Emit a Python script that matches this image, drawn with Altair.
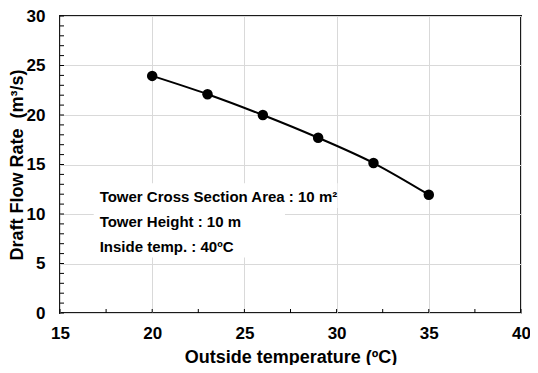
import altair as alt
import pandas as pd

# data
outside_temp = [20, 23, 26, 29, 32, 35]
flow_rate = [23.95, 22.1, 20.0, 17.7, 15.15, 11.95]

x_major = [15, 20, 25, 30, 35, 40]
y_major = [0, 5, 10, 15, 20, 25, 30]
x_minor = [15 + 2.5 * i for i in range(11)]
y_minor = list(range(0, 31))

notes = ["Tower Cross Section Area : 10 m\u00b2", "Tower Height : 10 m", "Inside temp. : 40\u00baC"]
note_x = [17.15, 17.15, 17.15]
note_y = [11.2, 8.65, 6.15]

# white boxes behind the annotation (data units)
box_x = [16.83, 16.83]
box_x2 = [30.05, 27.2]
box_y = [13.1, 10.6]
box_y2 = [10.6, 5.6]

FONT = "Liberation Sans"

df = pd.DataFrame({"t": outside_temp, "q": flow_rate})
notes_df = pd.DataFrame({"label": notes, "x": note_x, "y": note_y})
box_df = pd.DataFrame({"x": box_x, "x2": box_x2, "y": box_y, "y2": box_y2})
xt_df = pd.DataFrame({"v": x_minor})
yt_df = pd.DataFrame({"v": y_minor})

xs = alt.Scale(domain=[15, 40], nice=False, zero=False)
ys = alt.Scale(domain=[0, 30], nice=False)

x_axis = alt.Axis(values=x_major, title="Outside temperature (\u00baC)", grid=True,
                  ticks=False, tickSize=0, domain=False, labelPadding=12, labelFlush=False,
                  titlePadding=7, labelFontSize=17, titleFontSize=18)
y_axis = alt.Axis(values=y_major, title="Draft Flow Rate \u00a0(m\u00b3/s)", grid=True,
                  ticks=False, tickSize=0, domain=False, labelPadding=15, labelFlush=False,
                  titlePadding=0, labelFontSize=17, titleFontSize=18)

base = alt.Chart(df)

line = base.mark_line(color="black", strokeWidth=2, interpolate="monotone").encode(
    x=alt.X("t:Q", scale=xs, axis=x_axis),
    y=alt.Y("q:Q", scale=ys, axis=y_axis),
)
points = base.mark_circle(color="black", opacity=1, size=110).encode(
    x=alt.X("t:Q", scale=xs),
    y=alt.Y("q:Q", scale=ys),
)

boxes = alt.Chart(box_df).mark_rect(color="white").encode(
    x=alt.X("x:Q", scale=xs), x2="x2", y=alt.Y("y:Q", scale=ys), y2="y2"
)
texts = alt.Chart(notes_df).mark_text(
    align="left", baseline="alphabetic", font=FONT, fontSize=15, fontWeight="bold", color="black"
).encode(x=alt.X("x:Q", scale=xs), y=alt.Y("y:Q", scale=ys), text="label:N")

yticks = alt.Chart(yt_df).mark_rule(color="black", strokeWidth=1).encode(
    y=alt.Y("v:Q", scale=ys), x=alt.value(0), x2=alt.value(4)
)
xticks = alt.Chart(xt_df).mark_rule(color="black", strokeWidth=1).encode(
    x=alt.X("v:Q", scale=xs), y=alt.value(297), y2=alt.value(293)
)

chart = alt.layer(line, boxes, texts, yticks, xticks, points).properties(
    width=461, height=297,
    autosize=alt.AutoSizeParams(type="none"),
    padding={"left": 52, "top": 8, "right": 9, "bottom": 52},
).configure_view(
    stroke="#1a1a1a", strokeWidth=2
).configure_axis(
    gridColor="#d9d9d9", gridWidth=1, labelFont=FONT, titleFont=FONT,
    labelFontWeight="bold", titleFontWeight="bold", labelColor="black", titleColor="black",
)

chart.save("out.html", embed_options={"renderer": "svg", "actions": False})
